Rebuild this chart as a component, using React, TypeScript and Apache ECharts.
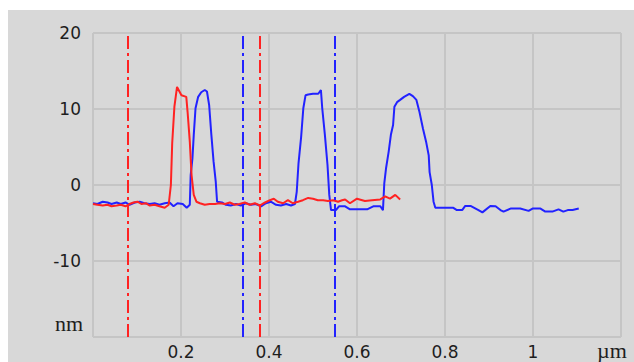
import React, { useEffect, useRef } from "react";
import * as echarts from "echarts";

// Profile data: [position (µm), height (nm)]
const blueProfile: [number, number][] = [
  [0.0, -2.4], [0.01, -2.5], [0.022, -2.2], [0.033, -2.3], [0.042, -2.5], [0.054, -2.3],
  [0.063, -2.5], [0.074, -2.3], [0.083, -2.6], [0.095, -2.3], [0.106, -2.2], [0.117, -2.4],
  [0.129, -2.5], [0.14, -2.4], [0.151, -2.6], [0.163, -2.4], [0.174, -2.3], [0.183, -2.8],
  [0.192, -2.4], [0.204, -2.5], [0.213, -3.0], [0.22, -2.6],
  [0.222, 1.3], [0.226, 3.5], [0.229, 6.6], [0.233, 10.1], [0.239, 11.6], [0.246, 12.2],
  [0.254, 12.5], [0.259, 12.3], [0.264, 10.5], [0.269, 6.6], [0.274, 3.1], [0.279, 0.4],
  [0.282, -2.2], [0.293, -2.3], [0.302, -2.6], [0.313, -2.7], [0.325, -2.5], [0.336, -2.7],
  [0.347, -2.4], [0.359, -2.6], [0.37, -2.5], [0.382, -2.8], [0.393, -2.4], [0.404, -2.2],
  [0.416, -2.6], [0.427, -2.7], [0.439, -2.5], [0.45, -2.7], [0.459, -2.5],
  [0.463, -0.9], [0.467, 2.8], [0.473, 6.3], [0.478, 10.1], [0.483, 11.8], [0.489, 11.9],
  [0.5, 12.0], [0.512, 12.0], [0.518, 12.5], [0.521, 10.1], [0.527, 6.6], [0.533, 2.6],
  [0.537, -1.3], [0.541, -3.3], [0.552, -3.3], [0.559, -2.8], [0.573, -2.8], [0.584, -3.2],
  [0.607, -3.2], [0.623, -3.2], [0.637, -2.8], [0.653, -2.8], [0.659, -3.3],
  [0.662, 0.2], [0.666, 2.2], [0.672, 4.4], [0.677, 6.6], [0.682, 7.9], [0.685, 10.3],
  [0.691, 10.9], [0.698, 11.2], [0.707, 11.6], [0.719, 12.0], [0.727, 11.7], [0.735, 11.2],
  [0.742, 9.6], [0.75, 7.4], [0.757, 5.7], [0.763, 3.9], [0.765, 1.7], [0.77, 0.0],
  [0.774, -2.2], [0.778, -3.0], [0.819, -3.0], [0.827, -3.3], [0.839, -3.3], [0.846, -2.75],
  [0.858, -2.75], [0.876, -3.3], [0.885, -3.6], [0.903, -2.75], [0.915, -2.8], [0.926, -3.3],
  [0.933, -3.5], [0.949, -3.1], [0.971, -3.1], [0.99, -3.4], [0.999, -3.1], [1.017, -3.1],
  [1.028, -3.5], [1.044, -3.5], [1.058, -3.2], [1.069, -3.5], [1.079, -3.3], [1.09, -3.3],
  [1.104, -3.1],
];

const redProfile: [number, number][] = [
  [0.0, -2.5], [0.01, -2.6], [0.022, -2.7], [0.033, -2.6], [0.042, -2.8], [0.054, -2.7],
  [0.063, -2.6], [0.074, -2.8], [0.083, -2.5], [0.092, -2.3], [0.101, -2.2], [0.11, -2.5],
  [0.12, -2.4], [0.129, -2.7], [0.14, -2.6], [0.151, -2.8], [0.163, -3.0], [0.172, -2.6],
  [0.177, 0.0], [0.18, 5.5], [0.185, 10.3], [0.191, 12.9], [0.201, 11.8], [0.212, 11.6],
  [0.215, 9.6], [0.22, 5.7], [0.224, 1.3], [0.229, -1.3], [0.235, -2.2], [0.243, -2.4],
  [0.254, -2.6], [0.265, -2.5], [0.277, -2.5], [0.288, -2.4], [0.3, -2.5], [0.311, -2.3],
  [0.322, -2.6], [0.333, -2.5], [0.345, -2.3], [0.356, -2.6], [0.368, -2.4], [0.379, -2.7],
  [0.391, -2.3], [0.402, -2.0], [0.411, -1.8], [0.42, -2.2], [0.432, -2.4], [0.443, -2.0],
  [0.454, -2.4], [0.466, -2.2], [0.477, -2.0], [0.489, -1.7], [0.5, -1.8], [0.511, -2.0],
  [0.523, -2.0], [0.534, -2.1], [0.546, -2.0], [0.557, -2.2], [0.566, -2.0], [0.573, -1.9],
  [0.584, -2.4], [0.6, -1.8], [0.618, -2.1], [0.634, -2.0], [0.653, -1.9], [0.664, -1.5],
  [0.675, -1.8], [0.687, -1.3], [0.698, -1.9],
];

const redCursors = [0.076, 0.378];
const blueCursors = [0.336, 0.553];

const xMin = 0;
const xMax = 1.2;
const xInterval = 0.2;
const yMin = -20;
const yMax = 20;
const yInterval = 10;
const yUnit = "nm";
const xUnit = "µm";

const BLUE = "#2222ff";
const RED = "#ff2222";
const GRID = "#c5c5c5";
const TEXT = "#1e1e1e";
const DASH = [13, 4, 3, 4];
const SERIF = "'Liberation Serif', 'DejaVu Serif', serif";

export default function App() {
  const ref = useRef<HTMLDivElement>(null);

  useEffect(() => {
    if (!ref.current) return;
    const chart = echarts.init(ref.current, null, { renderer: "svg" });
    chart.setOption({
      animation: false,
      backgroundColor: "#d8d8d8",
      grid: { left: 85, top: 23, right: 13, bottom: 25, containLabel: false },
      xAxis: {
        type: "value",
        min: xMin,
        max: xMax,
        interval: xInterval,
        axisLine: { show: false },
        axisTick: { show: false },
        splitLine: { show: true, lineStyle: { color: GRID, width: 2 } },
        axisLabel: {
          margin: 6,
          color: TEXT,
          fontFamily: "DejaVu Sans",
          fontSize: 17,
          showMinLabel: true,
          showMaxLabel: true,
          formatter: (v: number) => {
            if (Math.abs(v - xMin) < 1e-9 || Math.abs(v - xMax) < 1e-9) return "";
            return String(+v.toFixed(1));
          },
        },
      },
      yAxis: {
        type: "value",
        min: yMin,
        max: yMax,
        interval: yInterval,
        axisLine: { show: false },
        axisTick: { show: false },
        splitLine: { show: true, lineStyle: { color: GRID, width: 2 } },
        axisLabel: {
          margin: 12,
          color: TEXT,
          fontFamily: "DejaVu Sans",
          fontSize: 17,
          formatter: (v: number) => (Math.abs(v - yMin) < 1e-9 ? "" : String(v)),
        },
      },
      graphic: [
        {
          type: "text",
          x: 75,
          y: 324,
          style: {
            text: yUnit,
            fill: TEXT,
            font: "22px " + SERIF,
            align: "right",
            verticalAlign: "bottom",
          },
        },
        {
          type: "text",
          x: 589,
          y: 351,
          style: {
            text: xUnit,
            fill: TEXT,
            font: "22px " + SERIF,
            align: "left",
            verticalAlign: "bottom",
          },
        },
      ],
      series: [
        {
          type: "line",
          data: blueProfile,
          showSymbol: false,
          lineStyle: { color: BLUE, width: 2 },
          itemStyle: { color: BLUE },
          markLine: {
            silent: true,
            symbol: "none",
            label: { show: false },
            lineStyle: { color: BLUE, width: 2, type: DASH },
            data: blueCursors.map((x) => ({ xAxis: x })),
          },
        },
        {
          type: "line",
          data: redProfile,
          showSymbol: false,
          lineStyle: { color: RED, width: 2 },
          itemStyle: { color: RED },
          markLine: {
            silent: true,
            symbol: "none",
            label: { show: false },
            lineStyle: { color: RED, width: 2, type: DASH },
            data: redCursors.map((x) => ({ xAxis: x })),
          },
        },
      ],
    });
    return () => chart.dispose();
  }, []);

  return (
    <div
      ref={ref}
      style={{ position: "absolute", left: 8, top: 10, width: 626, height: 352 }}
    />
  );
}
